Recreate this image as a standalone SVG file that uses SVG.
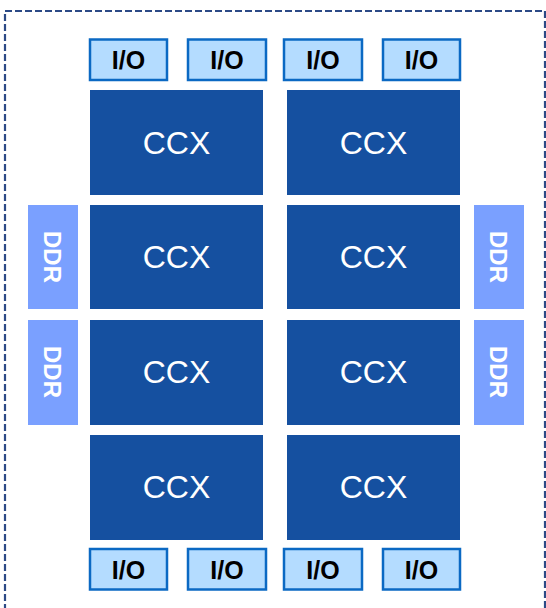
<svg xmlns="http://www.w3.org/2000/svg" width="546" height="608" viewBox="0 0 546 608">
<style>
.ccx{fill:#1550a0}
.ccxt{fill:#ffffff;font-family:"Liberation Sans",Arial,sans-serif;font-size:32px;text-anchor:middle;dominant-baseline:central}
.io{fill:#b4dcff;stroke:#0b69c3;stroke-width:2.5}
.iot{fill:#000000;font-family:"Liberation Sans",Arial,sans-serif;font-size:25px;font-weight:bold;text-anchor:middle;dominant-baseline:central}
.ddr{fill:#7aa0ff}
.ddrt{fill:#ffffff;font-family:"Liberation Sans",Arial,sans-serif;font-size:24px;font-weight:bold;text-anchor:middle;dominant-baseline:central}
.border{fill:none;stroke:#2c4a86;stroke-width:2.2;stroke-dasharray:7 3}
</style>
<rect class="border" x="5" y="11" width="540" height="620"/>
<g id="io-top-1"><rect class="io" x="90" y="39.5" width="77" height="40.5"/><text class="iot" x="128.5" y="60">I/O</text></g>
<g id="io-top-2"><rect class="io" x="188" y="39.5" width="78" height="40.5"/><text class="iot" x="227" y="60">I/O</text></g>
<g id="io-top-3"><rect class="io" x="284" y="39.5" width="78" height="40.5"/><text class="iot" x="323" y="60">I/O</text></g>
<g id="io-top-4"><rect class="io" x="383" y="39.5" width="77" height="40.5"/><text class="iot" x="421.5" y="60">I/O</text></g>
<g id="ccx-1"><rect class="ccx" x="90" y="90" width="173" height="105"/><text class="ccxt" x="176.5" y="143">CCX</text></g>
<g id="ccx-2"><rect class="ccx" x="287" y="90" width="173" height="105"/><text class="ccxt" x="373.5" y="143">CCX</text></g>
<g id="ccx-3"><rect class="ccx" x="90" y="205" width="173" height="104"/><text class="ccxt" x="176.5" y="257">CCX</text></g>
<g id="ccx-4"><rect class="ccx" x="287" y="205" width="173" height="104"/><text class="ccxt" x="373.5" y="257">CCX</text></g>
<g id="ccx-5"><rect class="ccx" x="90" y="320" width="173" height="105"/><text class="ccxt" x="176.5" y="372">CCX</text></g>
<g id="ccx-6"><rect class="ccx" x="287" y="320" width="173" height="105"/><text class="ccxt" x="373.5" y="372">CCX</text></g>
<g id="ccx-7"><rect class="ccx" x="90" y="435" width="173" height="105"/><text class="ccxt" x="176.5" y="487">CCX</text></g>
<g id="ccx-8"><rect class="ccx" x="287" y="435" width="173" height="105"/><text class="ccxt" x="373.5" y="487">CCX</text></g>
<g id="ddr-l1"><rect class="ddr" x="28" y="205" width="50" height="104"/><text class="ddrt" transform="translate(52 257) rotate(90)">DDR</text></g>
<g id="ddr-l2"><rect class="ddr" x="28" y="320" width="50" height="105"/><text class="ddrt" transform="translate(52 372) rotate(90)">DDR</text></g>
<g id="ddr-r1"><rect class="ddr" x="474" y="205" width="50" height="104"/><text class="ddrt" transform="translate(498 257) rotate(90)">DDR</text></g>
<g id="ddr-r2"><rect class="ddr" x="474" y="320" width="50" height="105"/><text class="ddrt" transform="translate(498 372) rotate(90)">DDR</text></g>
<g id="io-bot-1"><rect class="io" x="90" y="549" width="77" height="40.5"/><text class="iot" x="128.5" y="570">I/O</text></g>
<g id="io-bot-2"><rect class="io" x="188" y="549" width="78" height="40.5"/><text class="iot" x="227" y="570">I/O</text></g>
<g id="io-bot-3"><rect class="io" x="284" y="549" width="78" height="40.5"/><text class="iot" x="323" y="570">I/O</text></g>
<g id="io-bot-4"><rect class="io" x="383" y="549" width="77" height="40.5"/><text class="iot" x="421.5" y="570">I/O</text></g>
<g id="connectors"></g>
</svg>
